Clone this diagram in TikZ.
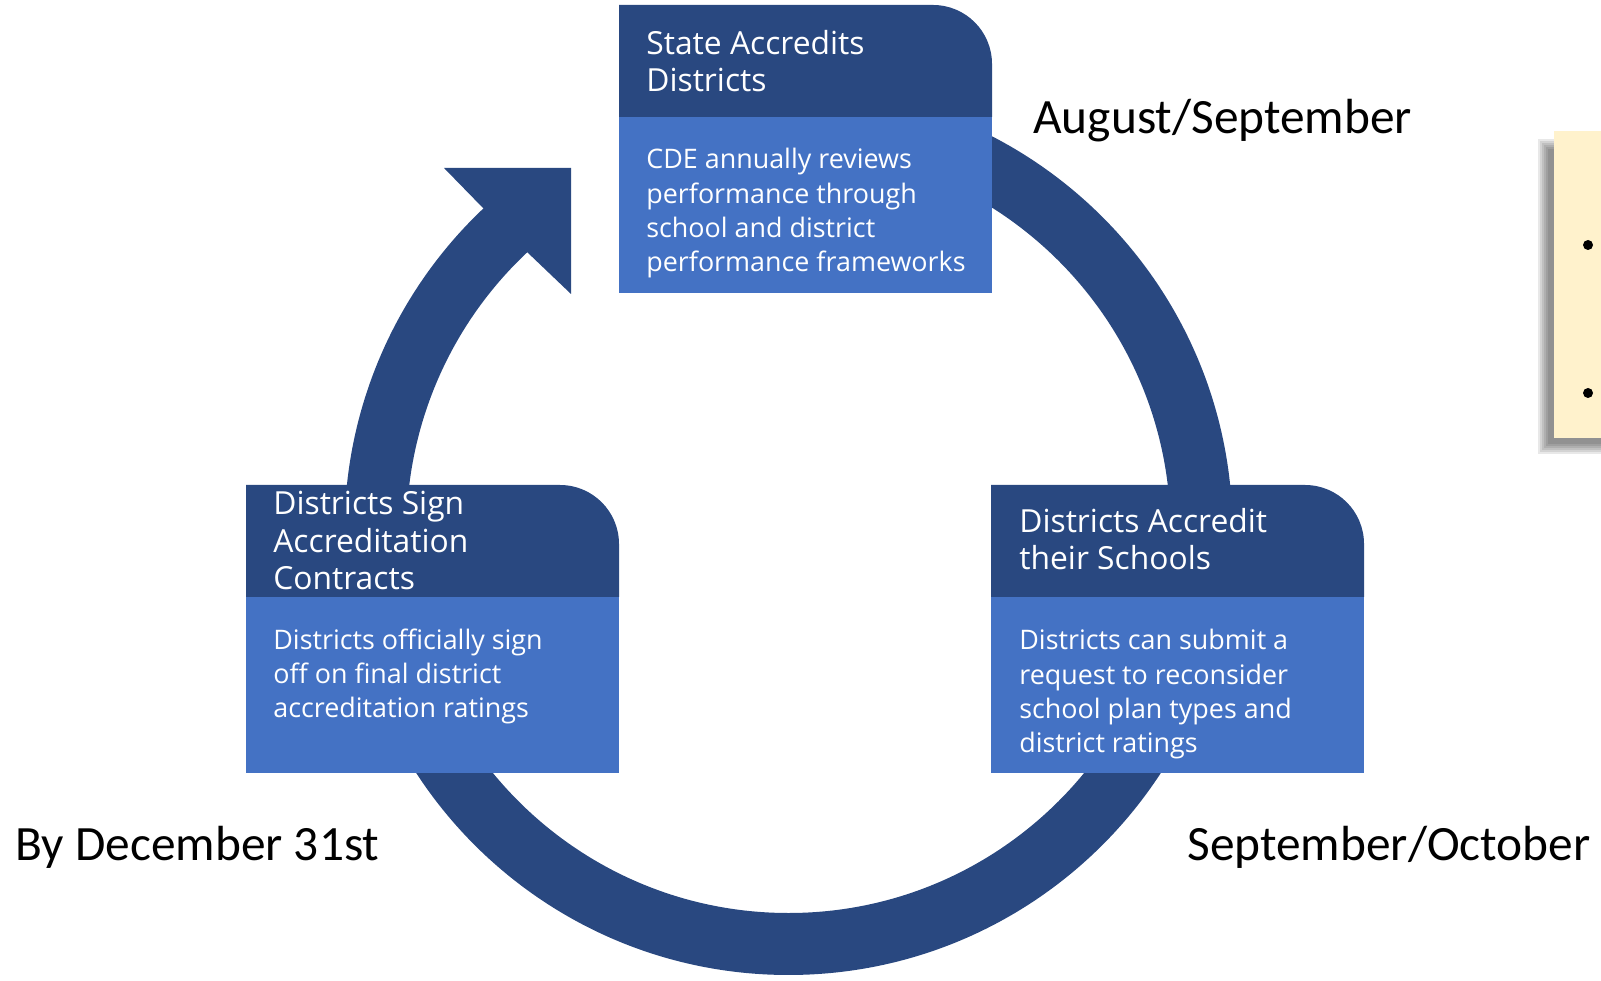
\documentclass[tikz,border=0pt]{standalone}
\usepackage{fontspec}
\setmainfont{Carlito}
\newfontfamily\boxfont{Open Sans}
\usepackage{xcolor}
\usetikzlibrary{positioning}

\definecolor{darkblue}{RGB}{41,72,128}
\definecolor{lightblue}{RGB}{68,114,196}
\definecolor{cream}{RGB}{255,242,204}

\begin{document}
\begin{tikzpicture}[
    x=0.02cm, y=0.02cm,
    ring/.style={draw=darkblue, line width=1.24cm},
    head/.style={fill=darkblue},
    body/.style={fill=lightblue},
    headtxt/.style={anchor=base west, align=left, inner sep=0pt, text=white, font=\boxfont\fontsize{18.1}{21.5}\selectfont},
    bodytxt/.style={anchor=base west, align=left, inner sep=0pt, text=white, font=\boxfont\fontsize{15.3}{19.6}\selectfont},
    date/.style={anchor=base west, inner sep=0pt, font=\fontsize{28.1}{33}\selectfont}
    ]
    \useasboundingbox (0,0) rectangle (1601,980);

    % cycle ring and its arrow head
    \draw[ring] (788.5,449) ++(90:413) arc[start angle=90, end angle=-228, radius=413];
    \fill[darkblue] (444,812) -- (571,812) -- (571,686) -- (527,728) -- (483,772) -- cycle;

    % the three stage boxes
    \foreach \bx/\by in {619/975, 246/495, 991/495} {
        \fill[head] (\bx,\by-112) -- (\bx,\by) -- (\bx+314,\by)
            arc[start angle=90, end angle=0, radius=59] -- (\bx+373,\by-112) -- cycle;
        \fill[body] (\bx,\by-288) rectangle (\bx+373,\by-112);
    }

    % texts sit on the baseline of their last line
    \node[headtxt] (state) at (646,888) {State Accredits\\Districts};
    \node[bodytxt] (review) at (646,708) {CDE annually reviews\\performance through\\school and district\\performance frameworks};

    \node[headtxt] (sign) at (273,390) {Districts Sign\\Accreditation\\Contracts};
    \node[bodytxt] (signoff) at (273,262) {Districts officially sign\\off on final district\\accreditation ratings};

    \node[headtxt] (schools) at (1019,410) {Districts Accredit\\their Schools};
    \node[bodytxt] (request) at (1019,227) {Districts can submit a\\request to reconsider\\school plan types and\\district ratings};

    % dates
    \node[date] (augsep) at (1033,846) {August/September};
    \node[date] (dec) at (15,120) {By December 31st};
    \node[date] (sepoct) at (1187,120) {September/October};

    % note box cut off at the right edge, soft shadow first
    \foreach \s in {0,2,...,10} {
        \fill[black, opacity=0.09] (1538+\s,526+\s) rectangle (1650,841-\s);
    }
    \fill[cream] (1554,542) rectangle (1650,849);
    \fill (1588,735) circle[radius=5];
    \fill (1588,587) circle[radius=5];
\end{tikzpicture}
\end{document}
